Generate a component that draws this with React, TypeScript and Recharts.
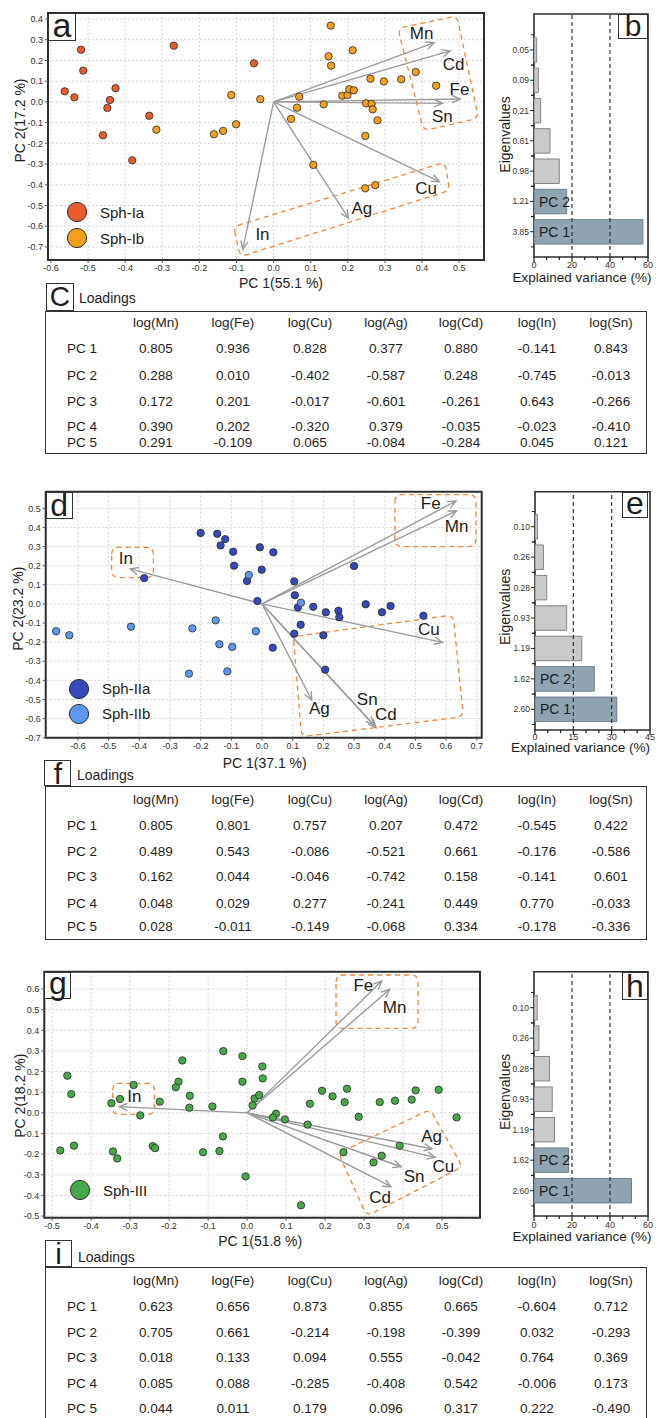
import React from 'react';
import {
  ScatterChart, Scatter, XAxis, YAxis, CartesianGrid, ReferenceArea, Legend,
  BarChart, Bar, Cell, ReferenceLine, LabelList,
} from 'recharts';

const SANS = '"Liberation Sans", Arial, Helvetica, sans-serif';

type Pt = { x: number; y: number };
type Named = { x: number; y: number; name: string };
const toPts = (rows: number[][]): Pt[] => rows.map(([x, y]) => ({ x, y }));

// ---------------- Panel a : Sph-I PCA biplot ----------------
const aSphIa = toPts([
  [-0.519, 0.252], [-0.513, 0.151], [-0.563, 0.051], [-0.537, 0.022], [-0.426, 0.066],
  [-0.441, 0.009], [-0.448, -0.029], [-0.46, -0.161], [-0.335, -0.067], [-0.381, -0.282],
  [-0.269, 0.271], [-0.053, 0.186],
]);
const aSphIb = toPts([
  [-0.316, -0.134], [-0.161, -0.156], [-0.136, -0.14], [-0.101, -0.108], [-0.114, 0.033],
  [-0.036, 0.013], [0.154, 0.368], [0.148, 0.22], [0.155, 0.175], [0.213, 0.249],
  [0.069, 0.025], [0.063, -0.028], [0.047, -0.082], [0.135, -0.012], [0.107, -0.304],
  [0.185, 0.03], [0.199, 0.033], [0.204, 0.061], [0.216, 0.056], [0.261, 0.112],
  [0.297, 0.099], [0.344, 0.109], [0.383, 0.144], [0.438, 0.078], [0.249, -0.007],
  [0.264, -0.01], [0.267, -0.036], [0.28, -0.089], [0.247, -0.164], [0.247, -0.417],
  [0.274, -0.402],
]);
const aArrows: Named[] = [
  { name: 'Mn', x: 0.433, y: 0.286 }, { name: 'Cd', x: 0.476, y: 0.246 },
  { name: 'Fe', x: 0.503, y: 0.014 }, { name: 'Sn', x: 0.455, y: -0.007 },
  { name: 'Cu', x: 0.447, y: -0.385 }, { name: 'Ag', x: 0.202, y: -0.562 },
  { name: 'In', x: -0.083, y: -0.711 },
];
const aLabels: Named[] = [
  { name: 'Mn', x: 0.399, y: 0.331 }, { name: 'Cd', x: 0.485, y: 0.181 },
  { name: 'Fe', x: 0.501, y: 0.062 }, { name: 'Sn', x: 0.455, y: -0.071 },
  { name: 'Cu', x: 0.411, y: -0.417 }, { name: 'Ag', x: 0.238, y: -0.513 },
  { name: 'In', x: -0.03, y: -0.642 },
];
const aBoxes = [
  [[0.335, 0.355], [0.494, 0.415], [0.552, -0.079], [0.404, -0.139]],
  [[-0.108, -0.602], [0.462, -0.291], [0.474, -0.428], [-0.09, -0.747]],
];
const aXTicks = [-0.6, -0.5, -0.4, -0.3, -0.2, -0.1, 0, 0.1, 0.2, 0.3, 0.4, 0.5];
const aYTicks = [-0.7, -0.6, -0.5, -0.4, -0.3, -0.2, -0.1, 0, 0.1, 0.2, 0.3, 0.4];

// ---------------- Panel d : Sph-II PCA biplot ----------------
const dSphIIa = toPts([
  [-0.2, 0.371], [-0.146, 0.367], [-0.12, 0.339], [-0.135, 0.306], [-0.094, 0.273],
  [-0.091, 0.2], [-0.007, 0.296], [0.037, 0.27], [-0.001, 0.179], [-0.049, 0.12],
  [-0.384, 0.135], [-0.015, 0.015], [0.035, -0.229], [0.105, 0.118], [0.107, 0.045],
  [0.117, -0.018], [0.167, -0.015], [0.208, -0.044], [0.249, -0.036], [0.252, -0.07],
  [0.126, -0.109], [0.105, -0.156], [0.2, -0.164], [0.206, -0.344], [0.3, 0.198],
  [0.338, -0.002], [0.391, -0.044], [0.419, -0.011], [0.526, -0.062],
]);
const dSphIIb = toPts([
  [-0.671, -0.143], [-0.628, -0.164], [-0.427, -0.119], [-0.227, -0.128], [-0.151, -0.086],
  [-0.139, -0.211], [-0.097, -0.225], [-0.238, -0.365], [-0.113, -0.353], [-0.02, -0.143],
  [-0.043, 0.151], [0.127, 0.006],
]);
const dArrows: Named[] = [
  { name: 'Fe', x: 0.632, y: 0.538 }, { name: 'Mn', x: 0.634, y: 0.487 },
  { name: 'Cu', x: 0.588, y: -0.201 }, { name: 'Ag', x: 0.162, y: -0.503 },
  { name: 'Sn', x: 0.365, y: -0.633 }, { name: 'Cd', x: 0.372, y: -0.648 },
  { name: 'In', x: -0.43, y: 0.183 },
];
const dLabels: Named[] = [
  { name: 'Fe', x: 0.55, y: 0.526 }, { name: 'Mn', x: 0.634, y: 0.407 },
  { name: 'Cu', x: 0.544, y: -0.133 }, { name: 'Ag', x: 0.187, y: -0.546 },
  { name: 'Sn', x: 0.343, y: -0.5 }, { name: 'Cd', x: 0.404, y: -0.577 },
  { name: 'In', x: -0.444, y: 0.238 },
];
const dBoxes = [
  [[0.433, 0.572], [0.697, 0.572], [0.697, 0.3], [0.433, 0.3]],
  [[-0.49, 0.296], [-0.354, 0.296], [-0.354, 0.137], [-0.49, 0.137]],
  [[0.102, -0.171], [0.623, -0.058], [0.656, -0.59], [0.129, -0.695]],
];
const dXTicks = [-0.6, -0.5, -0.4, -0.3, -0.2, -0.1, 0, 0.1, 0.2, 0.3, 0.4, 0.5, 0.6, 0.7];
const dYTicks = [-0.7, -0.6, -0.5, -0.4, -0.3, -0.2, -0.1, 0, 0.1, 0.2, 0.3, 0.4, 0.5];

// ---------------- Panel g : Sph-III PCA biplot ----------------
const gSphIII = toPts([
  [-0.461, 0.18], [-0.451, 0.091], [-0.479, -0.182], [-0.444, -0.159], [-0.348, 0.047],
  [-0.326, 0.067], [-0.291, 0.135], [-0.274, -0.012], [-0.344, -0.187], [-0.333, -0.221],
  [-0.242, -0.161], [-0.236, -0.171], [-0.224, 0.054], [-0.166, 0.254], [-0.176, 0.151],
  [-0.183, 0.124], [-0.147, 0.083], [-0.148, 0.025], [-0.089, 0.031], [-0.061, 0.299],
  [-0.062, -0.114], [-0.071, -0.185], [-0.113, -0.191], [-0.004, -0.308], [-0.012, 0.275],
  [-0.012, 0.151], [0.039, 0.225], [0.04, 0.167], [0.019, 0.07], [0.031, 0.086],
  [0.014, 0.036], [0.074, -0.004], [0.066, -0.022], [0.097, -0.032], [0.155, -0.057],
  [0.161, 0.044], [0.192, 0.107], [0.138, -0.448], [0.219, 0.08], [0.256, 0.117],
  [0.25, 0.052], [0.286, -0.019], [0.34, 0.052], [0.379, 0.059], [0.422, 0.064],
  [0.432, 0.109], [0.491, 0.112], [0.537, -0.022], [0.391, -0.159], [0.345, -0.208],
  [0.324, -0.24], [0.247, -0.191],
]);
const gArrows: Named[] = [
  { name: 'Fe', x: 0.345, y: 0.639 }, { name: 'Mn', x: 0.365, y: 0.598 },
  { name: 'Ag', x: 0.474, y: -0.174 }, { name: 'Cu', x: 0.482, y: -0.216 },
  { name: 'Sn', x: 0.395, y: -0.261 }, { name: 'Cd', x: 0.369, y: -0.358 },
  { name: 'In', x: -0.328, y: 0.03 },
];
const gLabels: Named[] = [
  { name: 'Fe', x: 0.298, y: 0.619 }, { name: 'Mn', x: 0.378, y: 0.511 },
  { name: 'Ag', x: 0.473, y: -0.116 }, { name: 'Cu', x: 0.503, y: -0.258 },
  { name: 'Sn', x: 0.428, y: -0.306 }, { name: 'Cd', x: 0.341, y: -0.409 },
  { name: 'In', x: -0.289, y: 0.078 },
];
const gBoxes = [
  [[0.228, 0.668], [0.438, 0.668], [0.438, 0.409], [0.228, 0.409]],
  [[-0.345, 0.143], [-0.238, 0.143], [-0.238, -0.007], [-0.345, -0.007]],
  [[0.469, 0.017], [0.552, -0.261], [0.307, -0.5], [0.234, -0.196]],
];
const gXTicks = [-0.5, -0.4, -0.3, -0.2, -0.1, 0, 0.1, 0.2, 0.3, 0.4, 0.5];
const gYTicks = [-0.5, -0.4, -0.3, -0.2, -0.1, 0, 0.1, 0.2, 0.3, 0.4, 0.5, 0.6];

// ---------------- Scree bars (b, e, h) ----------------
const bEigen = ['0.05', '0.09', '0.21', '0.61', '0.98', '1.21', '3.85'];
const bVariance = [1.4, 2.3, 3.5, 8.4, 13.3, 17.2, 57.3];
const eEigen = ['0.10', '0.26', '0.28', '0.93', '1.19', '1.62', '2.60'];
const eVariance = [1.0, 3.3, 4.6, 12.4, 18.3, 23.2, 32.0];
const hEigen = ['0.10', '0.26', '0.28', '0.93', '1.19', '1.62', '2.60'];
const hVariance = [1.7, 2.6, 8.2, 9.6, 10.8, 18.2, 51.3];
const pcTags = ['', '', '', '', '', 'PC 2', 'PC 1'];
const slotTicks = [0, 1, 2, 3, 4, 5, 6];
const ticks60 = [0, 20 / 3, 40 / 3, 20, 80 / 3, 100 / 3, 40, 140 / 3, 160 / 3, 60];
const majors60 = [0, 20, 40, 60];
const ticks45 = [0, 5, 10, 15, 20, 25, 30, 35, 40, 45];
const majors45 = [0, 15, 30, 45];

// ---------------- Loadings tables (c, f, i) ----------------
const loadingCols = ['log(Mn)', 'log(Fe)', 'log(Cu)', 'log(Ag)', 'log(Cd)', 'log(In)', 'log(Sn)'];
const loadingRows = ['PC 1', 'PC 2', 'PC 3', 'PC 4', 'PC 5'];
const cLoadings = [
  [0.805, 0.936, 0.828, 0.377, 0.88, -0.141, 0.843],
  [0.288, 0.01, -0.402, -0.587, 0.248, -0.745, -0.013],
  [0.172, 0.201, -0.017, -0.601, -0.261, 0.643, -0.266],
  [0.39, 0.202, -0.32, 0.379, -0.035, -0.023, -0.41],
  [0.291, -0.109, 0.065, -0.084, -0.284, 0.045, 0.121],
];
const fLoadings = [
  [0.805, 0.801, 0.757, 0.207, 0.472, -0.545, 0.422],
  [0.489, 0.543, -0.086, -0.521, 0.661, -0.176, -0.586],
  [0.162, 0.044, -0.046, -0.742, 0.158, -0.141, 0.601],
  [0.048, 0.029, 0.277, -0.241, 0.449, 0.77, -0.033],
  [0.028, -0.011, -0.149, -0.068, 0.334, -0.178, -0.336],
];
const iLoadings = [
  [0.623, 0.656, 0.873, 0.855, 0.665, -0.604, 0.712],
  [0.705, 0.661, -0.214, -0.198, -0.399, 0.032, -0.293],
  [0.018, 0.133, 0.094, 0.555, -0.042, 0.764, 0.369],
  [0.085, 0.088, -0.285, -0.408, 0.542, -0.006, 0.173],
  [0.044, 0.011, 0.179, 0.096, 0.317, 0.222, -0.49],
];

// ---------------- drawing helpers ----------------
const fmt1 = (v: number) => (Math.abs(v) < 1e-9 ? '0.0' : v.toFixed(1));
const noShape = () => <g />;

const dotShape = (color: string) => (p: any) => (
  <circle cx={p.cx} cy={p.cy} r={3.7} fill={color} stroke="#2b2b2b" strokeWidth={0.8} />
);

const textShape = (p: any) => (
  <text x={p.cx} y={p.cy} textAnchor="middle" dominantBaseline="central"
    fontSize={17} fill="#1e1e1e" fontFamily={SANS}>
    {p.payload?.name ?? p.name}
  </text>
);

// first point is the origin, every following point is an arrow tip
const arrowLines = (props: any) => {
  const pts = props.points || [];
  if (pts.length < 2) return <g />;
  const o = pts[0];
  return (
    <g>
      {pts.slice(1).map((p: any, i: number) => {
        const ang = Math.atan2(p.y - o.y, p.x - o.x);
        const L = 9;
        const A = 0.42;
        const h1 = `${p.x - L * Math.cos(ang - A)},${p.y - L * Math.sin(ang - A)}`;
        const h2 = `${p.x - L * Math.cos(ang + A)},${p.y - L * Math.sin(ang + A)}`;
        return (
          <g key={i}>
            <line x1={o.x} y1={o.y} x2={p.x} y2={p.y} stroke="#9b9b9b" strokeWidth={1.4} />
            <polyline points={`${h1} ${p.x},${p.y} ${h2}`} fill="none" stroke="#9b9b9b" strokeWidth={1.4} />
          </g>
        );
      })}
    </g>
  );
};

// dashed outline through the given corners with rounded joints
const roundedBox = (props: any) => {
  const pts = props.points || [];
  const n = pts.length;
  if (n < 3) return <g />;
  const r = 7;
  let d = '';
  for (let i = 0; i < n; i++) {
    const p = pts[i];
    const prev = pts[(i - 1 + n) % n];
    const next = pts[(i + 1) % n];
    const l1 = Math.hypot(prev.x - p.x, prev.y - p.y) || 1;
    const l2 = Math.hypot(next.x - p.x, next.y - p.y) || 1;
    const ax = p.x + ((prev.x - p.x) / l1) * r;
    const ay = p.y + ((prev.y - p.y) / l1) * r;
    const bx = p.x + ((next.x - p.x) / l2) * r;
    const by = p.y + ((next.y - p.y) / l2) * r;
    d += `${i === 0 ? 'M' : 'L'}${ax},${ay} Q${p.x},${p.y} ${bx},${by} `;
  }
  d += 'Z';
  return <path d={d} fill="none" stroke="#f0883e" strokeWidth={1.3} strokeDasharray="5 4" />;
};

const xTitle = (text: string, dx: number, dy: number, size: number) => (props: any) => {
  const vb = props.viewBox || {};
  return (
    <text x={vb.x + vb.width / 2 + dx} y={vb.y + dy} textAnchor="middle" dominantBaseline="central"
      fontSize={size} fill="#1e1e1e" fontFamily={SANS}>{text}</text>
  );
};
const yTitle = (text: string, dx: number, dy: number, size: number) => (props: any) => {
  const vb = props.viewBox || {};
  const cx = vb.x + dx;
  const cy = vb.y + vb.height / 2 + dy;
  return (
    <text x={cx} y={cy} transform={`rotate(-90 ${cx} ${cy})`} textAnchor="middle"
      dominantBaseline="central" fontSize={size} fill="#1e1e1e" fontFamily={SANS}>{text}</text>
  );
};

type Group = { label: string; color: string; points: Pt[] };

const LegendBlock = ({ groups, row }: { groups: Group[]; row: number }) => (
  <div style={{ fontFamily: SANS }}>
    {groups.map((g) => (
      <div key={g.label} style={{ display: 'flex', alignItems: 'center', height: row }}>
        <svg width={22} height={22} style={{ display: 'block' }}>
          <circle cx={11} cy={11} r={9.6} fill={g.color} stroke="#2b2b2b" strokeWidth={1} />
        </svg>
        <span style={{ marginLeft: 12, fontSize: 15, color: '#222', whiteSpace: 'nowrap' }}>{g.label}</span>
      </div>
    ))}
  </div>
);

type BiplotProps = {
  top: number; height: number;
  plot: { left: number; top: number; right: number; bottom: number };
  xDomain: [number, number]; yDomain: [number, number];
  xTicks: number[]; yTicks: number[];
  groups: Group[]; arrows: Named[]; labels: Named[]; boxes: number[][][];
  xLabel: string; yLabel: string;
  xLabelDx: number; xLabelDy: number; yLabelDx: number; yLabelDy: number;
  legendLeft: number; legendTop: number; legendRow: number;
};

const WIDE = 490;

function Biplot(p: BiplotProps) {
  const margin = { top: p.plot.top - p.top, right: WIDE - p.plot.right, left: 0, bottom: 0 };
  const xAxisH = p.top + p.height - p.plot.bottom;
  const tickStyle = { fontSize: 9, fill: '#333', fontFamily: SANS };
  return (
    <div style={{ position: 'absolute', left: 0, top: p.top }}>
      <ScatterChart width={WIDE} height={p.height} margin={margin}>
        <CartesianGrid stroke="#d6d6d6" strokeDasharray="2 2" />
        <XAxis type="number" dataKey="x" domain={p.xDomain} ticks={p.xTicks} allowDataOverflow
          interval={0} tickFormatter={fmt1} tick={tickStyle} axisLine={false}
          tickLine={{ stroke: '#555' }} tickSize={3} tickMargin={2} height={xAxisH}
          label={xTitle(p.xLabel, p.xLabelDx, p.xLabelDy, 14)} />
        <YAxis type="number" dataKey="y" domain={p.yDomain} ticks={p.yTicks} allowDataOverflow
          interval={0} tickFormatter={fmt1} tick={tickStyle} axisLine={false}
          tickLine={{ stroke: '#555' }} tickSize={3} tickMargin={2} width={p.plot.left}
          label={yTitle(p.yLabel, p.yLabelDx, p.yLabelDy, 14)} />
        {p.boxes.map((b, i) => (
          <Scatter key={`box${i}`} data={toPts(b)} line={roundedBox} shape={noShape}
            legendType="none" isAnimationActive={false} />
        ))}
        <Scatter data={[{ x: 0, y: 0 }, ...p.arrows]} line={arrowLines} shape={noShape}
          legendType="none" isAnimationActive={false} />
        {p.groups.map((g) => (
          <Scatter key={g.label} name={g.label} data={g.points} fill={g.color}
            shape={dotShape(g.color)} isAnimationActive={false} />
        ))}
        <Scatter data={p.labels} shape={textShape} legendType="none" isAnimationActive={false} />
        <ReferenceArea x1={p.xDomain[0]} x2={p.xDomain[1]} y1={p.yDomain[0]} y2={p.yDomain[1]}
          fill="none" stroke="#2e2e2e" strokeWidth={2} ifOverflow="visible" />
        <Legend layout="horizontal" verticalAlign="middle" align="center"
          wrapperStyle={{ left: p.legendLeft, top: p.legendTop, width: 130, height: 60 }}
          content={() => <LegendBlock groups={p.groups} row={p.legendRow} />} />
      </ScatterChart>
    </div>
  );
}

type ScreeProps = {
  top: number; height: number;
  plot: { left: number; top: number; right: number; bottom: number };
  eigen: string[]; variance: number[]; xMax: number; ticks: number[]; majors: number[];
  refs: number[]; slotDomain: [number, number]; band: number; tickLabelDy: number;
  xDx: number; xDy: number; yDx: number; yDy: number;
};

function Scree(p: ScreeProps) {
  // slot 0 is the top bar, slot 6 the bottom one (PC 1)
  const data = p.eigen.map((e, i) => ({ slot: i, eig: e, pct: p.variance[i], tag: pcTags[i] }));
  const left = 480;
  const margin = { top: p.plot.top - p.top, right: 656 - p.plot.right, left: 0, bottom: 0 };
  const xAxisH = p.top + p.height - p.plot.bottom;
  const XTick = (t: any) => {
    const v = t.payload.value;
    const major = p.majors.some((m) => Math.abs(m - v) < 1e-6);
    return (
      <g>
        <line x1={t.x} x2={t.x} y1={t.y} y2={t.y + (major ? 5 : 3)} stroke="#222" strokeWidth={1.2} />
        {major && (
          <text x={t.x} y={t.y + p.tickLabelDy} textAnchor="middle" fontSize={9} fill="#333" fontFamily={SANS}>
            {Math.round(v)}
          </text>
        )}
      </g>
    );
  };
  const YTick = (t: any) => (
    <g>
      <line x1={t.x} x2={t.x - 4} y1={t.y} y2={t.y} stroke="#222" strokeWidth={1} />
      <line x1={t.x} x2={t.x - 3} y1={t.y - p.band / 2} y2={t.y - p.band / 2} stroke="#222" strokeWidth={1} />
      <line x1={t.x} x2={t.x - 3} y1={t.y + p.band / 2} y2={t.y + p.band / 2} stroke="#222" strokeWidth={1} />
      <text x={t.x - 5} y={t.y} textAnchor="end" dominantBaseline="central" fontSize={8.5}
        fill="#333" fontFamily={SANS}>{p.eigen[Math.round(t.payload.value)]}</text>
    </g>
  );
  return (
    <div style={{ position: 'absolute', left, top: p.top }}>
      <BarChart layout="vertical" width={176} height={p.height} data={data} margin={margin}>
        <XAxis type="number" domain={[0, p.xMax]} ticks={p.ticks} interval={0} allowDataOverflow
          tick={XTick} tickLine={false} tickSize={0} tickMargin={0} height={xAxisH}
          axisLine={false}
          label={xTitle('Explained variance (%)', p.xDx, p.xDy, 13.5)} />
        <YAxis type="number" dataKey="slot" domain={p.slotDomain} ticks={slotTicks} interval={0}
          allowDataOverflow width={p.plot.left - left}
          tick={YTick} tickLine={false} tickSize={0} tickMargin={0} axisLine={false}
          label={yTitle('Eigenvalues', p.yDx, p.yDy, 14)} />
        <Bar dataKey="pct" barSize={24.5} isAnimationActive={false}>
          {data.map((d, i) => (
            <Cell key={i} fill={d.tag ? '#8fa3b1' : '#c9c9c9'} stroke={d.tag ? '#6e808c' : '#858585'}
              strokeWidth={1} />
          ))}
          <LabelList dataKey="tag" position="insideLeft" offset={5} fill="#1e1e1e" fontSize={14}
            fontFamily={SANS} />
        </Bar>
        {p.refs.map((r) => (
          <ReferenceLine key={r} x={r} stroke="#333" strokeDasharray="4 3" strokeWidth={1.2} />
        ))}
        <ReferenceArea x1={0} x2={p.xMax} y1={p.slotDomain[0]} y2={p.slotDomain[1]} fill="none"
          stroke="#2e2e2e" strokeWidth={1.6} ifOverflow="visible" />
      </BarChart>
    </div>
  );
}

type TableProps = {
  frameTop: number; frameBottom: number; headerY: number; rowY: number[]; values: number[][];
};
const COL_X = [156, 233, 310, 386, 461, 537, 611];
const ROW_LABEL_X = 82;
const TABLE_LEFT = 44.5;
const TABLE_RIGHT = 647;

function LoadingsTable(p: TableProps) {
  const cell = (x: number, y: number, text: string, key: string) => (
    <div key={key} style={{
      position: 'absolute', left: x - 40, top: y - 9, width: 80, height: 18, lineHeight: '18px',
      textAlign: 'center', fontFamily: SANS, fontSize: 13.5, color: '#1e1e1e', whiteSpace: 'nowrap',
    }}>{text}</div>
  );
  return (
    <>
      <div style={{
        position: 'absolute', left: TABLE_LEFT, top: p.frameTop, width: TABLE_RIGHT - TABLE_LEFT,
        height: p.frameBottom - p.frameTop, border: '1.5px solid #333', boxSizing: 'border-box',
      }} />
      {loadingCols.map((c, i) => cell(COL_X[i], p.headerY, c, `h${i}`))}
      {loadingRows.map((r, ri) => (
        <React.Fragment key={r}>
          {cell(ROW_LABEL_X, p.rowY[ri], r, `r${ri}`)}
          {p.values[ri].map((v, ci) => cell(COL_X[ci], p.rowY[ri], v.toFixed(3), `v${ri}-${ci}`))}
        </React.Fragment>
      ))}
    </>
  );
}

const LetterBox = ({ x, y, w, h, letter, size, lh }: {
  x: number; y: number; w: number; h: number; letter: string; size: number; lh: number;
}) => (
  <div style={{
    position: 'absolute', left: x, top: y, width: w, height: h, border: '1.5px solid #333',
    boxSizing: 'border-box', background: '#fff', fontFamily: SANS, fontSize: size,
    lineHeight: `${lh}px`, textAlign: 'center', color: '#1e1e1e', zIndex: 2,
  }}>{letter}</div>
);

const Caption = ({ x, y, text }: { x: number; y: number; text: string }) => (
  <div style={{
    position: 'absolute', left: x, top: y - 9, height: 18, lineHeight: '18px',
    fontFamily: SANS, fontSize: 14, color: '#1e1e1e', whiteSpace: 'nowrap',
  }}>{text}</div>
);

export default function App() {
  return (
    <div style={{ position: 'relative', width: 656, height: 1418, background: '#fff', overflow: 'hidden' }}>
      <style>{'body{margin:0;background:#fff;}'}</style>

      <Biplot top={0} height={300} plot={{ left: 48, top: 13, right: 484, bottom: 260 }}
        xDomain={[-0.608, 0.567]} yDomain={[-0.763, 0.429]} xTicks={aXTicks} yTicks={aYTicks}
        groups={[{ label: 'Sph-Ia', color: '#ea5a2b', points: aSphIa },
          { label: 'Sph-Ib', color: '#f5a01c', points: aSphIb }]}
        arrows={aArrows} labels={aLabels} boxes={aBoxes}
        xLabel="PC 1(55.1 %)" yLabel="PC 2(17.2 %)"
        xLabelDx={15} xLabelDy={23} yLabelDx={20} yLabelDy={-16}
        legendLeft={66} legendTop={199} legendRow={26} />
      <Scree top={0} height={300} plot={{ left: 534, top: 14, right: 648, bottom: 257 }}
        eigen={bEigen} variance={bVariance} xMax={60} ticks={ticks60} majors={majors60}
        refs={[20, 40]} slotDomain={[-1.186, 6.834]} band={30.35} tickLabelDy={11}
        xDx={-9} xDy={20} yDx={25} yDy={-1} />
      <LetterBox x={48} y={13} w={28} h={28} letter="a" size={34} lh={22} />
      <LetterBox x={618} y={14} w={30} h={25} letter="b" size={30} lh={22} />

      <LetterBox x={45.7} y={282.7} w={28.5} h={28.5} letter="C" size={28} lh={26} />
      <Caption x={79} y={298} text="Loadings" />
      <LoadingsTable frameTop={310.7} frameBottom={454} headerY={323}
        rowY={[349, 375.7, 401.7, 426.7, 442.7]} values={cLoadings} />

      <Biplot top={470} height={300} plot={{ left: 45.7, top: 491.7, right: 481.7, bottom: 737.7 }}
        xDomain={[-0.705, 0.716]} yDomain={[-0.7, 0.587]} xTicks={dXTicks} yTicks={dYTicks}
        groups={[{ label: 'Sph-IIa', color: '#3549bd', points: dSphIIa },
          { label: 'Sph-IIb', color: '#5d97f2', points: dSphIIb }]}
        arrows={dArrows} labels={dLabels} boxes={dBoxes}
        xLabel="PC 1(37.1 %)" yLabel="PC 2(23.2 %)"
        xLabelDx={1} xLabelDy={25} yLabelDx={18} yLabelDy={-6}
        legendLeft={68} legendTop={206} legendRow={25.3} />
      <Scree top={470} height={300} plot={{ left: 535, top: 491.7, right: 650, bottom: 730 }}
        eigen={eEigen} variance={eVariance} xMax={45} ticks={ticks45} majors={majors45}
        refs={[15, 30]} slotDomain={[-1.151, 6.681]} band={30.4} tickLabelDy={9.5}
        xDx={-12} xDy={17} yDx={25} yDy={-4} />
      <LetterBox x={45.7} y={491.7} w={27} h={27} letter="d" size={32} lh={24} />
      <LetterBox x={622} y={491.7} w={26} h={26.6} letter="e" size={32} lh={21} />

      <LetterBox x={44.3} y={760} w={27} h={26} letter="f" size={30} lh={25} />
      <Caption x={77} y={775} text="Loadings" />
      <LoadingsTable frameTop={786} frameBottom={940} headerY={800}
        rowY={[826, 851.7, 877.3, 904, 927.3]} values={fLoadings} />

      <Biplot top={950} height={300} plot={{ left: 44.3, top: 971.7, right: 480, bottom: 1217.7 }}
        xDomain={[-0.52, 0.597]} yDomain={[-0.508, 0.684]} xTicks={gXTicks} yTicks={gYTicks}
        groups={[{ label: 'Sph-III', color: '#47a84a', points: gSphIII }]}
        arrows={gArrows} labels={gLabels} boxes={gBoxes}
        xLabel="PC 1(51.8 %)" yLabel="PC 2(18.2 %)"
        xLabelDx={-2} xLabelDy={23} yLabelDx={20} yLabelDy={1}
        legendLeft={69} legendTop={227} legendRow={26} />
      <Scree top={950} height={300} plot={{ left: 534, top: 971.7, right: 648, bottom: 1216 }}
        eigen={hEigen} variance={hVariance} xMax={60} ticks={ticks60} majors={majors60}
        refs={[20, 40]} slotDomain={[-1.18, 6.83]} band={30.5} tickLabelDy={12}
        xDx={-9} xDy={20} yDx={25} yDy={-2} />
      <LetterBox x={44.3} y={971.7} w={27} h={27.3} letter="g" size={32} lh={20} />
      <LetterBox x={622} y={971.7} w={26} h={28.3} letter="h" size={32} lh={27} />

      <LetterBox x={45} y={1240} w={27} h={27} letter="i" size={30} lh={26} />
      <Caption x={78} y={1256.7} text="Loadings" />
      <LoadingsTable frameTop={1266.7} frameBottom={1440} headerY={1280.7}
        rowY={[1306.7, 1333.3, 1358.3, 1384.3, 1409]} values={iLoadings} />
    </div>
  );
}
